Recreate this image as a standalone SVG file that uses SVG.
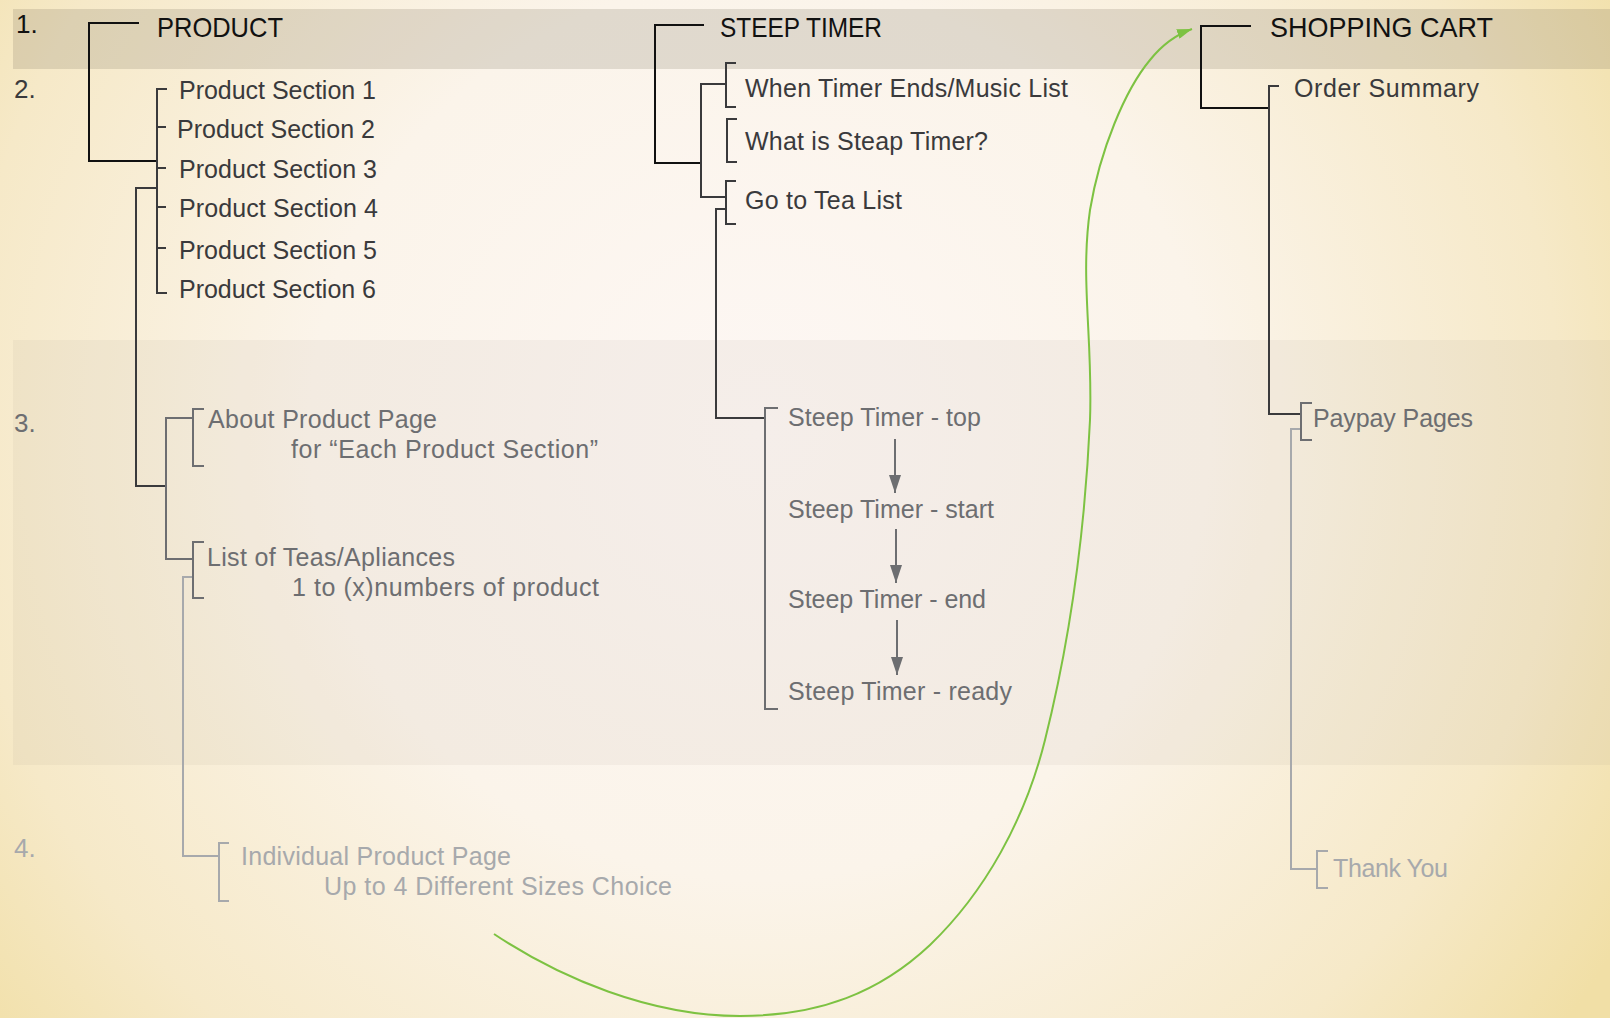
<svg xmlns="http://www.w3.org/2000/svg" width="1610" height="1018" viewBox="0 0 1610 1018">
<defs>
  <radialGradient id="bg" gradientUnits="userSpaceOnUse" cx="760" cy="430" r="1000">
    <stop offset="0" stop-color="#fdf7f4"/>
    <stop offset="0.45" stop-color="#fbf4ea"/>
    <stop offset="0.8" stop-color="#f6e9c8"/>
    <stop offset="1" stop-color="#f1dfa6"/>
  </radialGradient>
  <marker id="grayArrow" markerUnits="userSpaceOnUse" markerWidth="18" markerHeight="12" viewBox="0 0 18 12" refX="18" refY="6" orient="auto">
    <path d="M0,0 L18,6 L0,12 Z" fill="#6d6e71"/>
  </marker>
  <marker id="greenArrow" markerUnits="userSpaceOnUse" markerWidth="15" markerHeight="10" viewBox="0 0 15 10" refX="15" refY="5" orient="auto">
    <path d="M0,0 L15,5 L0,10 Z" fill="#7dc242"/>
  </marker>
  <style>
    text { font-family: "Liberation Sans", Arial, sans-serif; font-size: 25px; }
    .t1 { fill: #111111; font-size: 28px; }
    .t2 { fill: #3a3a3c; }
    .t3 { fill: #6d6e71; }
    .t4 { fill: #a7a9ac; }
    .num { font-size: 26px; }
    .l1, .l2, .l3, .l4 { fill: none; stroke-width: 2; }
    .l1 { stroke: #111111; }
    .l2 { stroke: #3a3a3c; }
    .l3 { stroke: #6d6e71; }
    .l4 { stroke: #a7a9ac; }
    .arrow { fill: none; stroke: #6d6e71; stroke-width: 2; marker-end: url(#grayArrow); }
    .flow { fill: none; stroke: #7dc242; stroke-width: 2; marker-end: url(#greenArrow); }
  </style>
</defs>

<rect x="0" y="0" width="1610" height="1018" fill="url(#bg)"/>
<g id="bands">
  <rect x="13" y="9" width="1597" height="60" fill="#786e5a" fill-opacity="0.2"/>
  <rect x="13" y="340" width="1597" height="425" fill="#8c7a6e" fill-opacity="0.07"/>
</g>

<g id="levels">
  <text class="t1 num" x="16" y="33">1.</text>
  <text class="t2 num" x="14" y="98">2.</text>
  <text class="t3 num" x="14" y="432">3.</text>
  <text class="t4 num" x="14" y="857">4.</text>
</g>

<g id="connectors">
  <!-- Product -->
  <path class="l1" d="M139,23 H89 V161 H157"/>
  <path class="l2" d="M167,89 H157 V293 H167 M157,127 H166 M157,168 H166 M157,207 H166 M157,248 H166"/>
  <path class="l2" d="M157,188 H136 V486 H166"/>
  <path class="l3" d="M193,418 H166 V559 H193"/>
  <path class="l4" d="M193,577 H183 V856 H219"/>
  <!-- Steep Timer -->
  <path class="l1" d="M704,25 H655 V163 H701"/>
  <path class="l2" d="M726,84 H701 V197 H726"/>
  <path class="l2" d="M726,209 H716 V418 H765"/>
  <path class="arrow" d="M895,439 V493"/>
  <path class="arrow" d="M896,529 V583"/>
  <path class="arrow" d="M897,620 V675"/>
  <!-- Shopping Cart -->
  <path class="l1" d="M1251,26 H1201 V108 H1269"/>
  <path class="l2" d="M1279,86 H1269 V414 H1301"/>
  <path class="l4" d="M1301,429 H1291 V869 H1317"/>
  <!-- green flow -->
  <path class="flow" d="M494,934 C560,978 650,1016 740,1016 C820,1016 880,992 930,945 C985,892 1025,820 1045,740 C1070,640 1085,530 1090,420 C1093,340 1080,280 1090,210 C1100,150 1125,90 1150,60 C1162,45 1175,35 1192,29"/>
</g>

<g id="product">
  <text class="t1" x="157" y="37" textLength="126" lengthAdjust="spacingAndGlyphs">PRODUCT</text>
</g>
<g id="product-section-1"><text class="t2" x="179" y="99" textLength="197">Product Section 1</text></g>
<g id="product-section-2"><text class="t2" x="177" y="138" textLength="198">Product Section 2</text></g>
<g id="product-section-3"><text class="t2" x="179" y="178" textLength="198">Product Section 3</text></g>
<g id="product-section-4"><text class="t2" x="179" y="217" textLength="199">Product Section 4</text></g>
<g id="product-section-5"><text class="t2" x="179" y="259" textLength="198">Product Section 5</text></g>
<g id="product-section-6"><text class="t2" x="179" y="298" textLength="197">Product Section 6</text></g>
<g id="about-product-page">
  <path class="l3" d="M204,409 H193 V466 H204"/>
  <text class="t3" x="208" y="428" textLength="229">About Product Page</text>
  <text class="t3" x="291" y="458" textLength="307">for “Each Product Section”</text>
</g>
<g id="list-of-teas">
  <path class="l3" d="M204,542 H193 V598 H204"/>
  <text class="t3" x="207" y="566" textLength="248">List of Teas/Apliances</text>
  <text class="t3" x="292" y="596" textLength="307">1 to (x)numbers of product</text>
</g>
<g id="individual-product-page">
  <path class="l4" d="M229,843 H219 V901 H229"/>
  <text class="t4" x="241" y="865" textLength="270">Individual Product Page</text>
  <text class="t4" x="324" y="895" textLength="348">Up to 4 Different Sizes Choice</text>
</g>

<g id="steep-timer">
  <text class="t1" x="720" y="37" textLength="162" lengthAdjust="spacingAndGlyphs">STEEP TIMER</text>
</g>
<g id="when-timer-ends">
  <path class="l2" d="M736,63 H726 V107 H736"/>
  <text class="t2" x="745" y="97" textLength="323">When Timer Ends/Music List</text>
</g>
<g id="what-is-steap-timer">
  <path class="l2" d="M737,119 H727 V162 H737"/>
  <text class="t2" x="745" y="150" textLength="243">What is Steap Timer?</text>
</g>
<g id="go-to-tea-list">
  <path class="l2" d="M736,181 H726 V224 H736"/>
  <text class="t2" x="745" y="209" textLength="157">Go to Tea List</text>
</g>
<g id="steep-timer-pages">
  <path class="l3" d="M778,408 H765 V709 H778"/>
  <text class="t3" x="788" y="426" textLength="193">Steep Timer - top</text>
  <text class="t3" x="788" y="518" textLength="206">Steep Timer - start</text>
  <text class="t3" x="788" y="608" textLength="198">Steep Timer - end</text>
  <text class="t3" x="788" y="700" textLength="224">Steep Timer - ready</text>
</g>

<g id="shopping-cart">
  <text class="t1" x="1270" y="37" textLength="223" lengthAdjust="spacingAndGlyphs">SHOPPING CART</text>
</g>
<g id="order-summary">
  <text class="t2" x="1294" y="97" textLength="185">Order Summary</text>
</g>
<g id="paypay-pages">
  <path class="l3" d="M1312,403 H1301 V440 H1312"/>
  <text class="t3" x="1313" y="427" textLength="160">Paypay Pages</text>
</g>
<g id="thank-you">
  <path class="l4" d="M1328,851 H1317 V888 H1328"/>
  <text class="t4" x="1333" y="877" textLength="115">Thank You</text>
</g>
</svg>
